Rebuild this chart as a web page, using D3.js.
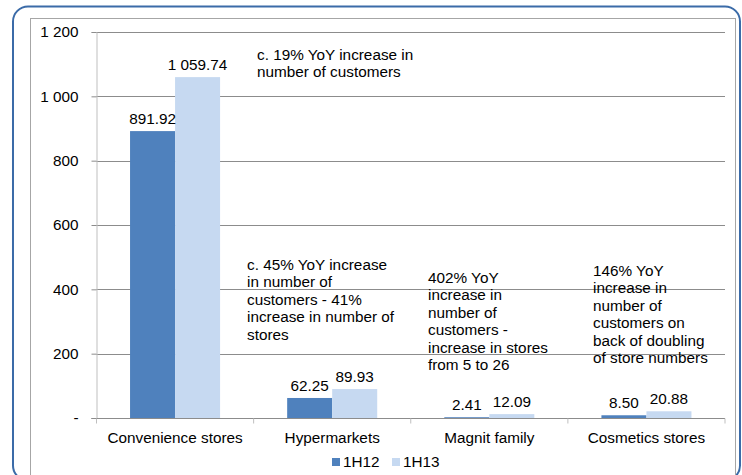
<!DOCTYPE html>
<html lang="en">
<head>
<meta charset="UTF-8">
<title>Customers by format, 1H12 vs 1H13</title>
<script src="https://d3js.org/d3.v7.min.js"></script>
<style>
    * { margin: 0; padding: 0; }
    body { background: #fff; font-family: 'Liberation Sans', Arial, sans-serif; }
    svg { display: block; }
</style>
</head>
<body>
<svg id="chart" width="742" height="475"></svg>
<script>
// data
const categories = ["Convenience stores", "Hypermarkets", "Magnit family", "Cosmetics stores"];
const seriesNames = ["1H12", "1H13"];
const values1H12 = [891.92, 62.25, 2.41, 8.50];
const values1H13 = [1059.74, 89.93, 12.09, 20.88];
const valueLabels1H12 = ["891.92", "62.25", "2.41", "8.50"];
const valueLabels1H13 = ["1 059.74", "89.93", "12.09", "20.88"];
const yTicks = [0, 200, 400, 600, 800, 1000, 1200];
const yTickLabels = ["-", "200", "400", "600", "800", "1 000", "1 200"];
const notes = [
    ["c. 19% YoY increase in", "number of customers"],
    ["c. 45% YoY increase", "in number of", "customers - 41%", "increase in number of", "stores"],
    ["402% YoY", "increase in", "number of", "customers -", "increase in stores", "from 5 to 26"],
    ["146% YoY", "increase in", "number of", "customers on", "back of doubling", "of store numbers"]
];
const colors = ["#4f81bd", "#c6d9f1"];
const fs = 15.3;

const svg = d3.select("#chart");

// frames
svg.append("rect")
    .attr("x", 13).attr("y", 6.5).attr("width", 727).attr("height", 474)
    .attr("rx", 15).attr("fill", "none")
    .attr("stroke", "#3b6ba8").attr("stroke-width", 2);
svg.append("rect")
    .attr("x", 30.5).attr("y", 18.5).attr("width", 705).attr("height", 470)
    .attr("fill", "none").attr("stroke", "#a6a6a6").attr("stroke-width", 1);

const plotLeft = 96.5, plotRight = 725, plotTop = 32, plotBottom = 418;

const x = d3.scaleBand().domain(categories).range([plotLeft, plotRight])
    .paddingInner(0.427).paddingOuter(0.2135);
const xs = d3.scaleBand().domain(seriesNames).range([0, x.bandwidth()]);
const y = d3.scaleLinear().domain([0, 1200]).range([plotBottom, plotTop]);

// gridlines
svg.append("g").selectAll("line")
    .data(yTicks.filter(d => d > 0))
    .join("line")
    .attr("x1", plotLeft).attr("x2", plotRight)
    .attr("y1", d => Math.round(y(d)) + 0.5).attr("y2", d => Math.round(y(d)) + 0.5)
    .attr("stroke", "#8c8c8c");

// y axis
const yAxis = svg.append("g")
    .attr("transform", `translate(${plotLeft},0)`)
    .call(d3.axisLeft(y).tickValues(yTicks).tickFormat((d, i) => yTickLabels[i]).tickSize(5).tickPadding(13));
yAxis.select(".domain").attr("stroke", "#bfbfbf");
yAxis.selectAll(".tick line").attr("stroke", "#8c8c8c");
yAxis.selectAll(".tick text")
    .attr("font-family", "'Liberation Sans', Arial, sans-serif")
    .attr("font-size", fs).attr("fill", "#000");

// bars
const groups = svg.append("g").selectAll("g")
    .data(categories)
    .join("g")
    .attr("transform", d => `translate(${x(d)},0)`);

const barData = (c, i) => [
    { s: seriesNames[0], v: values1H12[i], label: valueLabels1H12[i] },
    { s: seriesNames[1], v: values1H13[i], label: valueLabels1H13[i] }
];

groups.selectAll("rect")
    .data(barData)
    .join("rect")
    .attr("x", d => xs(d.s))
    .attr("y", d => y(d.v))
    .attr("width", xs.bandwidth())
    .attr("height", d => y(0) - y(d.v))
    .attr("fill", (d, i) => colors[i]);

groups.selectAll("text.val")
    .data(barData)
    .join("text")
    .attr("class", "val")
    .attr("x", d => xs(d.s) + xs.bandwidth() / 2)
    .attr("y", d => y(d.v) - 7)
    .attr("text-anchor", "middle")
    .attr("font-size", fs)
    .attr("fill", "#000")
    .text(d => d.label);

// x axis
const xAxis = svg.append("g")
    .attr("transform", `translate(0,${plotBottom + 0.5})`);
xAxis.append("line")
    .attr("x1", plotLeft - 5).attr("x2", plotRight)
    .attr("stroke", "#8c8c8c");
const edges = categories.map(c => x(c) - x.step() * x.paddingInner() / 2).concat([plotRight]);
xAxis.selectAll("line.tk")
    .data(edges)
    .join("line")
    .attr("class", "tk")
    .attr("x1", d => d).attr("x2", d => d)
    .attr("y1", 0).attr("y2", 5)
    .attr("stroke", "#bfbfbf");
xAxis.selectAll("text")
    .data(categories)
    .join("text")
    .attr("x", d => x(d) + x.bandwidth() / 2)
    .attr("y", 24)
    .attr("text-anchor", "middle")
    .attr("font-size", fs)
    .attr("fill", "#000")
    .text(d => d);

// annotations
const notePos = [[257, 60], [247, 270], [428, 283], [593, 276]];
notes.forEach((lines, i) => {
    const t = svg.append("text")
        .attr("x", notePos[i][0]).attr("y", notePos[i][1])
        .attr("font-size", fs).attr("fill", "#000");
    t.selectAll("tspan")
        .data(lines)
        .join("tspan")
        .attr("x", notePos[i][0])
        .attr("dy", (d, j) => j === 0 ? 0 : 17.4)
        .text(d => d);
});

// legend
const legend = svg.append("g").attr("transform", "translate(332,457)");
const items = legend.selectAll("g")
    .data(seriesNames)
    .join("g")
    .attr("transform", (d, i) => `translate(${i * 60},0)`);
items.append("rect")
    .attr("width", 8).attr("height", 8).attr("y", 1)
    .attr("fill", (d, i) => colors[i]);
items.append("text")
    .attr("x", 11).attr("y", 10)
    .attr("font-size", fs).attr("fill", "#000")
    .text(d => d);
</script>
</body>
</html>
